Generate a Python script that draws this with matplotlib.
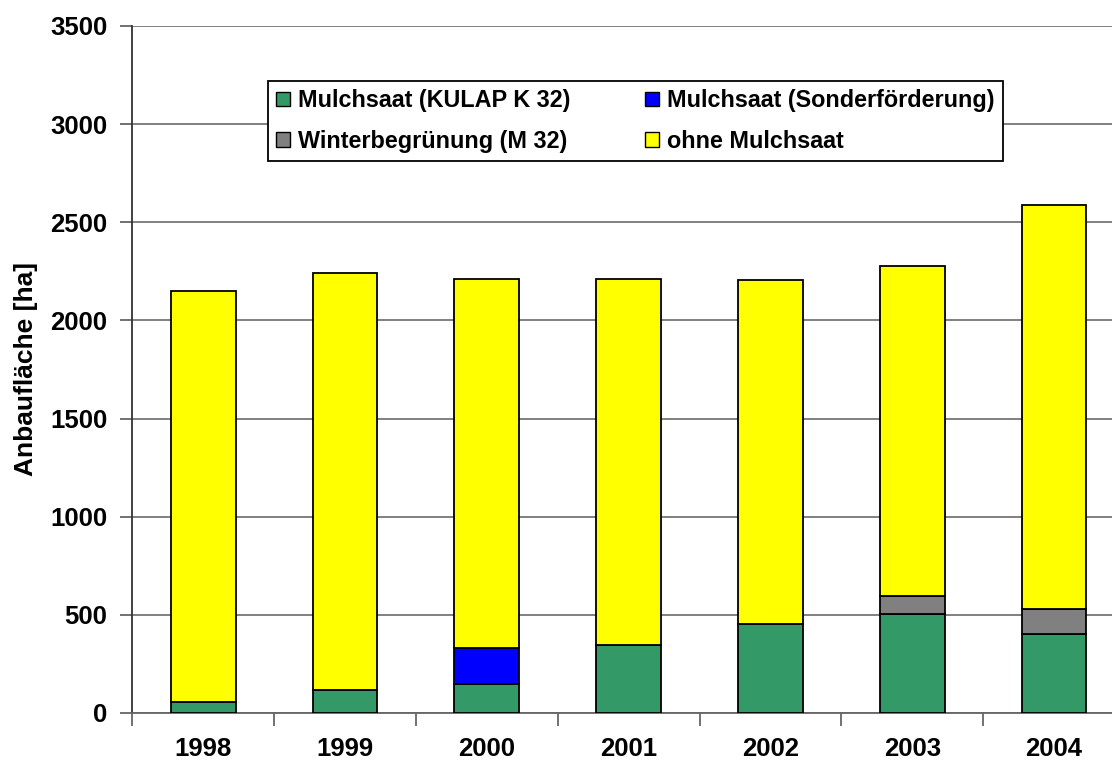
import numpy as np
import matplotlib
matplotlib.use("Agg")
import matplotlib.pyplot as plt
from matplotlib.patches import Patch
from matplotlib.ticker import FixedLocator, NullFormatter

plt.rcParams["font.family"] = ["Liberation Sans", "DejaVu Sans"]
plt.rcParams["font.weight"] = "bold"

# Anbaufläche je Jahr in ha
years = ["1998", "1999", "2000", "2001", "2002", "2003", "2004"]
kulap = [57, 115, 147, 344, 453, 502, 405]
sonder = [0, 0, 185, 0, 0, 0, 0]
winter = [0, 0, 0, 0, 0, 93, 124]
total = [2148, 2240, 2211, 2211, 2206, 2275, 2587]
ohne = [t - k - s - w for t, k, s, w in zip(total, kulap, sonder, winter)]

colors = {
    "Mulchsaat (KULAP K 32)": "#339966",
    "Mulchsaat (Sonderförderung)": "#0000FF",
    "Winterbegrünung (M 32)": "#808080",
    "ohne Mulchsaat": "#FFFF00",
}

W, H = 1112, 764
fig = plt.figure(figsize=(W / 100, H / 100), dpi=100)
# Diagrammfläche läuft rechts über den Bildrand hinaus
ax = fig.add_axes([132.3 / W, 1 - 713 / H, 7 * 141.8 / W, (713 - 26) / H])

x = np.arange(len(years))
w = 0.456
bottom = np.zeros(len(years))
for vals, name in [(kulap, "Mulchsaat (KULAP K 32)"),
                   (sonder, "Mulchsaat (Sonderförderung)"),
                   (winter, "Winterbegrünung (M 32)"),
                   (ohne, "ohne Mulchsaat")]:
    vals = np.array(vals)
    m = vals > 0
    ax.bar(x[m], vals[m], bottom=bottom[m], width=w, color=colors[name],
           edgecolor="black", linewidth=1.3, zorder=3)
    bottom = bottom + vals

ax.set_ylim(0, 3500)
ax.set_yticks(range(0, 3501, 500))
ax.set_xlim(-0.5, 6.5)
ax.yaxis.grid(True, color="#808080", linewidth=1.4, zorder=0)
ax.set_axisbelow(True)

ax.xaxis.set_major_locator(FixedLocator(x))
ax.set_xticklabels(years, fontsize=18.5, fontweight="bold")
ax.xaxis.set_minor_locator(FixedLocator(np.arange(-0.5, 7, 1.0)))
ax.xaxis.set_minor_formatter(NullFormatter())
ax.tick_params(axis="x", which="major", length=0, pad=17)
ax.tick_params(axis="x", which="minor", length=9, width=1.3, color="#666666")
ax.tick_params(axis="y", length=9, width=1.3, color="#666666", labelsize=18.5, pad=9)
for lab in ax.get_yticklabels():
    lab.set_fontweight("bold")

for s in ["top", "right"]:
    ax.spines[s].set_visible(False)
ax.spines["left"].set_color("#333333")
ax.spines["bottom"].set_color("#666666")
ax.spines["left"].set_linewidth(1.3)
ax.spines["bottom"].set_linewidth(1.3)

ax.set_ylabel("Anbaufläche [ha]", fontsize=19, fontweight="bold", labelpad=9)

order = ["Mulchsaat (KULAP K 32)", "Winterbegrünung (M 32)",
         "Mulchsaat (Sonderförderung)", "ohne Mulchsaat"]
handles = [Patch(facecolor=colors[n], edgecolor="black", linewidth=1.0) for n in order]
leg = fig.legend(
    handles, order,
    loc="upper left", bbox_to_anchor=(268 / W, 1 - 81 / H),
    ncol=2, prop={"weight": "bold", "size": 16.8},
    frameon=True, fancybox=False, edgecolor="black", framealpha=1,
    handlelength=0.6, handleheight=0.6, handletextpad=0.34,
    columnspacing=3.2, labelspacing=0.76, borderpad=0.35, borderaxespad=0,
)
leg.get_frame().set_linewidth(1.3)

fig.savefig("out.png", dpi=100)
